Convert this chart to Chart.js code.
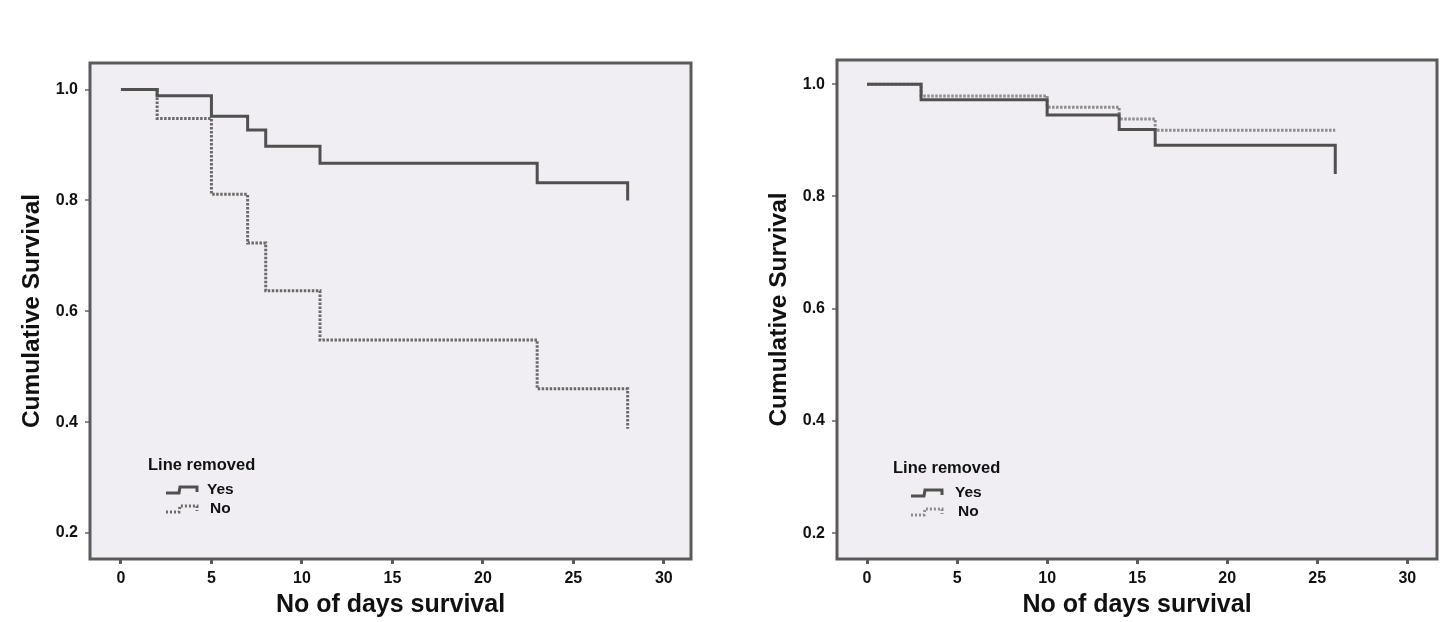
<!DOCTYPE html>
<html>
<head>
<meta charset="utf-8">
<script src="https://cdn.jsdelivr.net/npm/chart.js@4.4.1/dist/chart.umd.min.js"></script>
<style>
  html, body { margin: 0; padding: 0; background: #fff; width: 1450px; height: 622px; overflow: hidden; }
  #kmLeft { position: absolute; left: 0; top: 0; }
  #kmRight { position: absolute; left: 740px; top: 0; }
</style>
</head>
<body>
<canvas id="kmLeft" width="725" height="622"></canvas>
<canvas id="kmRight" width="710" height="622"></canvas>
<script>
// Kaplan-Meier curves
const seriesNames = ['Yes', 'No'];
const legendTitle = 'Line removed';
const xTitle = 'No of days survival';
const yTitle = 'Cumulative Survival';
const xTicks = [0, 5, 10, 15, 20, 25, 30];
const yTicks = [0.2, 0.4, 0.6, 0.8, 1.0];

// left panel
const leftYesDays = [0, 2, 5, 7, 8, 11, 23, 28];
const leftYesSurv = [1.0, 0.989, 0.952, 0.927, 0.898, 0.867, 0.832, 0.80];
const leftNoDays = [0, 2, 5, 7, 8, 11, 23, 28];
const leftNoSurv = [1.0, 0.948, 0.811, 0.723, 0.637, 0.548, 0.460, 0.388];

// right panel
const rightYesDays = [0, 3, 10, 14, 16, 26];
const rightYesSurv = [1.0, 0.972, 0.945, 0.919, 0.891, 0.84];
const rightNoDays = [0, 3, 10, 14, 16, 26];
const rightNoSurv = [1.0, 0.979, 0.959, 0.938, 0.918, 0.918];

const FONT = "'Liberation Sans', Arial, sans-serif";

const toPoints = (days, surv) => days.map((d, i) => ({ x: d, y: surv[i] }));

const framePlugin = {
    id: 'frame',
    beforeDraw(chart) {
        const { ctx, chartArea: a } = chart;
        ctx.save();
        ctx.fillStyle = '#f0eef2';
        ctx.fillRect(a.left, a.top, a.width, a.height);
        ctx.restore();
    },
    afterDatasetsDraw(chart) {
        const { ctx, chartArea: a } = chart;
        ctx.save();
        ctx.strokeStyle = '#5a5a5a';
        ctx.lineWidth = 3;
        ctx.strokeRect(a.left, a.top, a.width, a.height);
        ctx.restore();
    }
};

const kmLegendPlugin = {
    id: 'kmLegend',
    afterDraw(chart, args, opts) {
        const { ctx, chartArea: a } = chart;
        const x = a.left + opts.x;
        const y = a.top + opts.y;
        ctx.save();
        ctx.fillStyle = '#111';
        ctx.textBaseline = 'middle';
        ctx.font = 'bold 16.5px ' + FONT;
        ctx.fillText(legendTitle, x, y);
        chart.data.datasets.forEach((ds, i) => {
            const ry = y + 25 + i * 19;
            const ix = x + 18;
            ctx.strokeStyle = ds.borderColor;
            ctx.lineWidth = 3;
            ctx.setLineDash(ds.borderDash ? [2, 2] : []);
            ctx.beginPath();
            ctx.moveTo(ix, ry + 3);
            ctx.lineTo(ix + 13, ry + 3);
            ctx.lineTo(ix + 14, ry - 3);
            ctx.lineTo(ix + 31, ry - 3);
            ctx.lineTo(ix + 31, ry + 2);
            ctx.stroke();
            ctx.setLineDash([]);
            ctx.font = 'bold 15.5px ' + FONT;
            ctx.fillText(ds.label, x + opts.textX[i], ry);
        });
        ctx.restore();
    }
};

function makeKM(id, yes, no, box) {
    new Chart(document.getElementById(id), {
        type: 'line',
        data: {
            datasets: [{
                label: seriesNames[0],
                data: yes,
                stepped: 'before',
                borderColor: '#505050',
                borderWidth: 3,
                pointRadius: 0,
                fill: false
            }, {
                label: seriesNames[1],
                data: no,
                stepped: 'before',
                borderColor: box.noColor,
                borderDash: [2.5, 1.5],
                borderWidth: 3,
                pointRadius: 0,
                fill: false
            }]
        },
        options: {
            responsive: false,
            animation: false,
            layout: { padding: { left: 0, top: box.top, right: box.right, bottom: 0 } },
            plugins: {
                legend: { display: false },
                tooltip: { enabled: false },
                kmLegend: { x: box.legX, y: box.legY, textX: box.textX }
            },
            scales: {
                x: {
                    type: 'linear',
                    min: box.xMin,
                    max: box.xMax,
                    afterBuildTicks: s => { s.ticks = xTicks.map(v => ({ value: v })); },
                    afterFit: s => { s.height = 63; },
                    border: { display: false },
                    grid: { drawOnChartArea: false, drawTicks: true, tickLength: 5, color: '#5a5a5a', lineWidth: 3 },
                    ticks: { color: '#111', padding: 5, maxRotation: 0, font: { family: FONT, size: 16, weight: 'bold' } },
                    title: { display: true, text: xTitle, color: '#111', padding: { top: 0, bottom: 2 },
                             font: { family: FONT, size: 25, weight: 'bold' } }
                },
                y: {
                    type: 'linear',
                    min: box.yMin,
                    max: box.yMax,
                    afterBuildTicks: s => { s.ticks = yTicks.map(v => ({ value: v })); },
                    afterFit: s => { s.width = box.yWidth; },
                    border: { display: false },
                    grid: { drawOnChartArea: false, drawTicks: true, tickLength: 5, color: '#8a8a8a', lineWidth: 2 },
                    ticks: { color: '#111', padding: 7, font: { family: FONT, size: 16, weight: 'bold' },
                             callback: v => v.toFixed(1) },
                    title: { display: true, text: yTitle, color: '#111', padding: { top: box.yTitlePad, bottom: 0 },
                             font: { family: FONT, size: 24.5, weight: 'bold' } }
                }
            }
        },
        plugins: [framePlugin, kmLegendPlugin]
    });
}

makeKM('kmLeft', toPoints(leftYesDays, leftYesSurv), toPoints(leftNoDays, leftNoSurv), {
    top: 63, right: 34, yWidth: 90, yTitlePad: 18,
    xMin: -1.71, xMax: 31.5, yMin: 0.153, yMax: 1.048,
    noColor: '#6a6a6a', legX: 58, legY: 402, textX: [59, 62]
});

makeKM('kmRight', toPoints(rightYesDays, rightYesSurv), toPoints(rightNoDays, rightNoSurv), {
    top: 60, right: 13, yWidth: 97, yTitlePad: 25,
    xMin: -1.67, xMax: 31.65, yMin: 0.154, yMax: 1.043,
    noColor: '#8c8c8c', legX: 56, legY: 408, textX: [62, 65]
});
</script>
</body>
</html>
